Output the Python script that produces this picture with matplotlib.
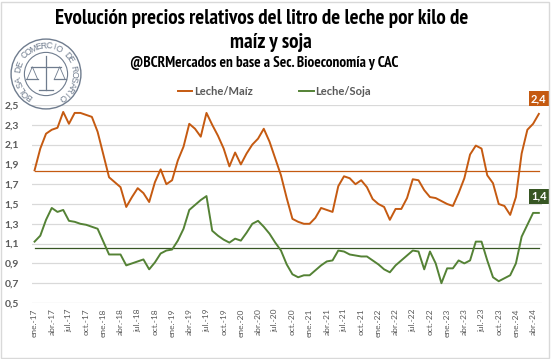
import numpy as np
import matplotlib
matplotlib.use("Agg")
import matplotlib.pyplot as plt
from matplotlib import font_manager as fm
from matplotlib.patches import Circle, Rectangle

# Monthly series, ene-17 .. may-24
leche_maiz = [1.84, 2.06, 2.21, 2.25, 2.27, 2.43, 2.31, 2.42, 2.42, 2.40,
              2.38, 2.23, 2.00, 1.77, 1.72, 1.67, 1.47, 1.57, 1.66, 1.61,
              1.52, 1.72, 1.85, 1.70, 1.74, 1.94, 2.08, 2.31, 2.26, 2.18,
              2.42, 2.30, 2.19, 2.06, 1.88, 2.02, 1.90, 2.01, 2.10, 2.16,
              2.26, 2.13, 1.96, 1.79, 1.56, 1.35, 1.32, 1.30, 1.30, 1.36,
              1.46, 1.44, 1.42, 1.68, 1.78, 1.76, 1.70, 1.74, 1.67, 1.55,
              1.50, 1.47, 1.34, 1.45, 1.45, 1.56, 1.75, 1.74, 1.64, 1.57,
              1.56, 1.53, 1.50, 1.48, 1.61, 1.76, 2.00, 2.09, 2.06, 1.79,
              1.71, 1.50, 1.48, 1.39, 1.57, 2.01, 2.25, 2.31, 2.41]
leche_soja = [1.12, 1.18, 1.34, 1.46, 1.42, 1.44, 1.33, 1.32, 1.30, 1.29,
              1.27, 1.25, 1.12, 0.99, 0.99, 0.99, 0.88, 0.90, 0.92, 0.94,
              0.84, 0.91, 1.00, 1.03, 1.04, 1.13, 1.25, 1.44, 1.49, 1.54,
              1.58, 1.23, 1.18, 1.14, 1.11, 1.15, 1.13, 1.21, 1.30, 1.33,
              1.27, 1.20, 1.11, 1.03, 0.89, 0.79, 0.76, 0.78, 0.78, 0.83,
              0.88, 0.92, 0.93, 1.03, 1.02, 0.99, 0.98, 0.97, 0.97, 0.93,
              0.89, 0.84, 0.81, 0.88, 0.93, 0.98, 1.03, 1.02, 0.84, 1.02,
              0.90, 0.70, 0.85, 0.85, 0.93, 0.90, 0.93, 1.12, 1.12, 0.93,
              0.76, 0.72, 0.75, 0.78, 0.90, 1.17, 1.29, 1.41, 1.41]
prom_maiz = 1.83
prom_soja = 1.06
meses = ["ene.", "abr.", "jul.", "oct."]
anios = ["17", "18", "19", "20", "21", "22", "23", "24"]
yticks = [0.5, 0.7, 0.9, 1.1, 1.3, 1.5, 1.7, 1.9, 2.1, 2.3, 2.5]

naranja = "#C55A11"
verde = "#548235"
verde_osc = "#375623"
gris = "#595959"


def fuente_titulo():
    # prefer a narrow bold face (like Arial Narrow), else a plain bold sans
    mejores = []
    for f in fm.fontManager.ttflist:
        n = f.name.lower()
        negrita = str(f.weight) in ("700", "bold")
        if not negrita or "oblique" in f.style or "italic" in f.style:
            continue
        if "narrow" in n:
            mejores.append((0, f.fname))
        elif f.stretch in ("condensed", "semi-condensed") or "condensed" in n:
            mejores.append((1, f.fname))
    if mejores:
        mejores.sort()
        return fm.FontProperties(fname=mejores[0][1])
    return fm.FontProperties(family="Liberation Sans", weight="bold")


W, H = 551, 359
fig = plt.figure(figsize=(W / 100, H / 100), dpi=100)
fig.patches.append(Rectangle((1 / W, 1 / H), 1 - 3 / W, 1 - 3 / H, transform=fig.transFigure,
                             fill=False, edgecolor="#D9D9D9", linewidth=1))

ax = fig.add_axes([31.7 / W, 1 - 303 / H, 510 / W, 198 / H])
x = np.arange(len(leche_maiz))
ax.plot(x, leche_maiz, color=naranja, lw=1.4, label="Leche/Maíz", zorder=3)
ax.plot(x, leche_soja, color=verde, lw=1.4, label="Leche/Soja", zorder=3)
ax.plot([x[0], x[-1]], [prom_maiz, prom_maiz], color=naranja, lw=0.9, zorder=2)
ax.plot([x[0], x[-1]], [prom_soja, prom_soja], color=verde_osc, lw=0.9, zorder=2)

ax.set_xlim(-0.5, 88.5)
ax.set_ylim(0.5, 2.5)
ax.set_yticks(yticks)
ax.set_yticklabels([f"{v:.1f}".replace(".", ",") for v in yticks],
                   fontsize=7.5, fontweight="bold", color=gris, family="Lato")
ticklabels = [m + "-" + a for a in anios for m in meses][:30]
ax.set_xticks(np.arange(0, 3 * len(ticklabels), 3))
ax.set_xticklabels(ticklabels, rotation=90, fontsize=6, color=gris, family="Lato")
ax.tick_params(length=0, pad=4)
ax.tick_params(axis="y", pad=9)
ax.grid(axis="y", color="#D9D9D9", lw=0.9)
ax.set_axisbelow(True)
for s in ax.spines.values():
    s.set_visible(False)

leg = ax.legend(loc="lower left", bbox_to_anchor=(0.267, 0.99), ncol=2, frameon=False,
                handlelength=1.3, handletextpad=0.15, columnspacing=4.2,
                prop={"family": "Lato", "size": 8, "weight": "bold"})
for t in leg.get_texts():
    t.set_color(gris)

ax.annotate("2,4", (x[-1], leche_maiz[-1]), xytext=(0, 7), textcoords="offset points",
            ha="center", va="bottom", color="white", fontsize=8, fontweight="bold",
            family="Lato", bbox=dict(boxstyle="square,pad=0.2", fc=naranja, ec="none"),
            annotation_clip=False)
ax.annotate("1,4", (x[-1], leche_soja[-1]), xytext=(0, 8), textcoords="offset points",
            ha="center", va="bottom", color="white", fontsize=8, fontweight="bold",
            family="Lato", bbox=dict(boxstyle="square,pad=0.2", fc=verde_osc, ec="none"),
            annotation_clip=False)

fp = fuente_titulo()
t1 = fig.text(262 / W, 1 - 18 / H, "Evolución precios relativos del litro de leche por kilo de",
              ha="center", va="center", fontproperties=fp.copy())
t2 = fig.text(271 / W, 1 - 43 / H, "maíz y soja", ha="center", va="center",
              fontproperties=fp.copy())
t3 = fig.text(264 / W, 1 - 63 / H, "@BCRMercados en base a Sec. Bioeconomía y CAC",
              ha="center", va="center", fontproperties=fp.copy())

# fit title widths to the reference
rend = fig.canvas.get_renderer()
for t, ancho in ((t1, 413), (t3, 268)):
    t.set_fontsize(12)
    w = t.get_window_extent(rend).width
    t.set_fontsize(12 * ancho / w)
t2.set_fontsize(t1.get_fontsize())

# sello de la Bolsa
lg = fig.add_axes([10 / W, 1 - 110 / H, 72 / W, 72 / H])
lg.set_xlim(-1, 1)
lg.set_ylim(-1, 1)
lg.axis("off")
sello = "#6F7C8E"
lg.add_patch(Circle((0, 0), 0.97, fill=False, ec=sello, lw=1))
lg.add_patch(Circle((0, 0), 0.6, fill=False, ec=sello, lw=0.8))
texto = "BOLSA DE COMERCIO DE ROSARIO"
angs = np.linspace(234, -54, len(texto))
for ch, a in zip(texto, angs):
    r = np.deg2rad(a)
    lg.text(0.78 * np.cos(r), 0.78 * np.sin(r), ch, rotation=a - 90, ha="center", va="center",
            fontsize=6.3, color=sello, family="Liberation Sans")
lg.plot([0, 0], [-0.45, 0.5], color=sello, lw=0.9)
lg.plot([-0.42, 0.42], [0.2, 0.2], color=sello, lw=0.9)
for sx in (-0.38, 0.38):
    lg.plot([sx - 0.15, sx, sx + 0.15], [-0.15, 0.2, -0.15], color=sello, lw=0.6)
    lg.plot([sx - 0.17, sx + 0.17], [-0.15, -0.15], color=sello, lw=0.9)
lg.plot([-0.2, 0.2], [-0.45, -0.45], color=sello, lw=0.9)

fig.savefig("out.png", dpi=100)
